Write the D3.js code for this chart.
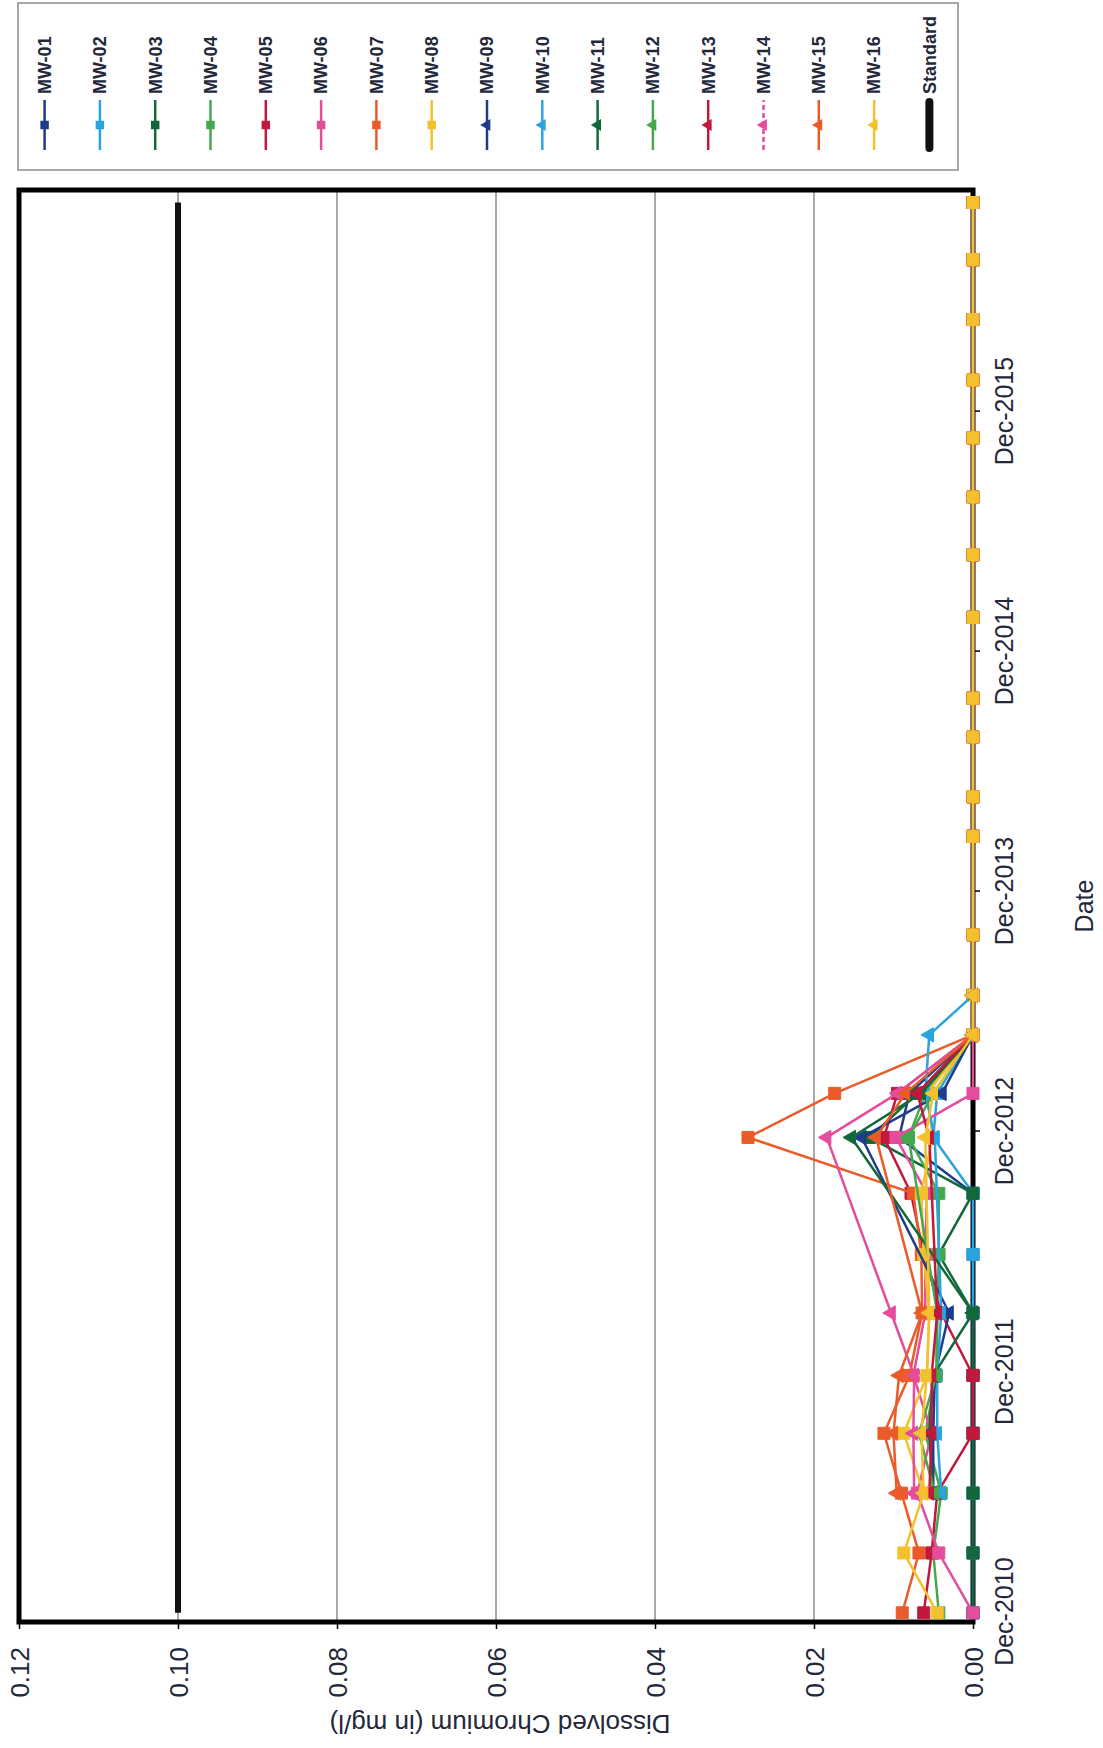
<!DOCTYPE html>
<html><head><meta charset="utf-8">
<script src="https://cdn.jsdelivr.net/npm/d3@7"></script>
<style>body{margin:0;background:#fff}svg{display:block}</style>
</head><body>
<svg id="c" width="1103" height="1748"></svg>
<script>
// ---- data ----
const sampleDates = ["2010-11-30","2011-03-01","2011-05-31","2011-08-30","2011-11-26","2012-02-29","2012-05-28","2012-08-29","2012-11-22","2013-01-28","2013-04-27","2013-06-26","2013-09-26","2014-02-23","2014-04-24","2014-07-24","2014-09-21","2015-01-22","2015-04-27","2015-07-24","2015-10-22","2016-01-18","2016-04-19","2016-07-19","2016-10-14"];
const seriesNames = ["MW-01","MW-02","MW-03","MW-04","MW-05","MW-06","MW-07","MW-08","MW-09","MW-10","MW-11","MW-12","MW-13","MW-14","MW-15","MW-16"];
const seriesColors = ["#1f3c8a","#2aa4de","#13683a","#45a84d","#c3173d","#e54c9c","#ea5b29","#f4c12e","#1f3c8a","#2aa4de","#13683a","#45a84d","#c3173d","#e54c9c","#ea5b29","#f4c12e"];
const seriesMarkers = ["square","square","square","square","square","square","square","square","triangle","triangle","triangle","triangle","triangle","triangle","triangle","triangle"];
const Z = [0,0,0,0,0,0,0,0,0,0,0,0,0];
const N = [null,null,null,null,null,null,null,null,null,null,null,null,null];
const mw01 = [0,0,0,0,0,0,0,0,0.0093,0.0080,0,0].concat(Z);
const mw02 = [0,0,0,0,0,0,0,0,0.0050,0.0045,0,0].concat(Z);
const mw03 = [0,0,0,0,0,0,0.0043,0,0.0130,0.0070,0,0].concat(Z);
const mw04 = [0.0043,0.0050,0.0040,0.0060,0.0046,0.0045,0.0043,0.0043,0.0081,0.0060,0,0].concat(Z);
const mw05 = [0.0062,0.0052,0.0045,0,0,0.0040,0.0062,0.0078,0.0112,0.0095,0,0].concat(Z);
const mw06 = [0,0.0043,0.0070,0.0052,0.0075,0.0060,0.0060,0.0058,0.0097,0,0,0].concat(Z);
const mw07 = [0.0089,0.0068,0.0090,0.0112,0.0080,0.0064,0.0065,0.0075,0.0283,0.0174,0,0].concat(Z);
const mw08 = [0.0045,0.0087,0.0062,0.0087,0.0058,0.0055,0.0062,0.0065,0.0051,0.0058,0,0].concat(Z);
const mw09 = [null,null,0.0050,0.0050,0.0048,0.0030,null,null,0.0140,0.0039,0,0].concat(N);
const mw10 = [null,null,0.0040,0.0045,0.0045,0.0040,null,null,0.0048,0.0060,0.0055,0].concat(N);
const mw11 = [null,null,0.0050,0.0055,0.0050,0,null,null,0.0153,0.0065,0,0].concat(N);
const mw12 = [null,null,0.0048,0.0068,0.0046,0.0045,null,null,0.0081,0.0050,0,0].concat(N);
const mw13 = [null,null,0.0055,0.0052,0.0052,0.0045,null,null,0.0055,0.0070,0,0].concat(N);
const mw14 = [null,null,0.0074,0.0075,0.0074,0.0103,null,null,0.0184,0.0095,0,0].concat(N);
const mw15 = [null,null,0.0096,0.0100,0.0093,0.0064,null,null,0.0122,0.0085,0,0].concat(N);
const mw16 = [null,null,0.0062,0.0065,0.0058,0.0055,null,null,0.0060,0.0050,0,0].concat(N);
const seriesValues = [mw01,mw02,mw03,mw04,mw05,mw06,mw07,mw08,mw09,mw10,mw11,mw12,mw13,mw14,mw15,mw16];
const standardName = "Standard";
const standardDates = ["2010-11-30","2016-10-14"];
const standardValues = [0.10,0.10];
const valueTicks = [0,0.02,0.04,0.06,0.08,0.10,0.12];
const dateTickLabels = ["Dec-2010","Dec-2011","Dec-2012","Dec-2013","Dec-2014","Dec-2015"];
const xTitle = "Date";
const yTitle = "Dissolved Chromium (in mg/l)";

// ---- drawing (upright chart drawn in a rotated group) ----
const parseD = d3.timeParse("%Y-%m-%d");
const parseTick = d3.timeParse("%b-%Y");
const svg = d3.select("#c");
const g = svg.append("g").attr("transform","translate(0,1748) rotate(-90)");
const FONT = "'Liberation Sans', Arial, sans-serif";

const x = d3.scaleTime().domain([new Date(2010,10,16), new Date(2016,10,2)]).range([126,1558]);
const y = d3.scaleLinear().domain([0,0.12]).range([973,19]);

// gridlines
g.append("g").selectAll("line").data(valueTicks.filter(v=>v>0 && v<0.12)).join("line")
  .attr("x1",126).attr("x2",1558).attr("y1",d=>y(d)).attr("y2",d=>y(d))
  .attr("stroke","#8d8d8d").attr("stroke-width",1.5);

// axes
const xAxis = d3.axisBottom(x).tickValues(dateTickLabels.map(parseTick))
  .tickFormat(d3.timeFormat("%b-%Y")).tickSize(7).tickPadding(15);
const gx = g.append("g").attr("transform","translate(0,973)").call(xAxis);
const yAxis = d3.axisLeft(y).tickValues(valueTicks).tickFormat(d3.format(".2f")).tickSize(7).tickPadding(18);
const gy = g.append("g").attr("transform","translate(126,0)").call(yAxis);
[gx,gy].forEach(a=>{
  a.select(".domain").remove();
  a.selectAll(".tick line").attr("stroke","#000").attr("stroke-width",1.5);
  a.selectAll("text").attr("font-family",FONT).attr("fill","#23283a");
});
gx.selectAll("text").attr("font-size",25);
gy.selectAll("text").attr("font-size",26).attr("dy","0.35em");

// plot border
g.append("rect").attr("x",126).attr("y",19).attr("width",1558-126).attr("height",973-19)
  .attr("fill","none").attr("stroke","#000").attr("stroke-width",5);

// titles
g.append("text").attr("x",842).attr("y",1093).attr("text-anchor","middle")
  .attr("font-family",FONT).attr("font-size",25).attr("fill","#23283a").text(xTitle);
g.append("text").attr("transform","translate(33,500) rotate(-90)").attr("text-anchor","middle")
  .attr("font-family",FONT).attr("font-size",26).attr("fill","#23283a").text(yTitle);

// series
const line = d3.line().x(d=>x(d.date)).y(d=>y(d.v));
const sym = {square: d3.symbol(d3.symbolSquare,144), triangle: d3.symbol(d3.symbolTriangle,90)};
seriesNames.forEach((name,i)=>{
  const pts = sampleDates.map((s,j)=>({date:parseD(s), v:seriesValues[i][j]})).filter(p=>p.v!==null);
  const sg = g.append("g");
  sg.append("path").attr("d",line(pts)).attr("fill","none").attr("stroke",seriesColors[i])
    .attr("stroke-width",2.5).attr("stroke-linejoin","round");
  sg.selectAll("path.m").data(pts).join("path").attr("class","m")
    .attr("transform",d=>`translate(${x(d.date)},${y(d.v)})`)
    .attr("d",sym[seriesMarkers[i]]()).attr("fill",seriesColors[i]).attr("stroke",seriesColors[i]).attr("stroke-width",1);
});
// standard
const stdPts = standardDates.map((s,j)=>({date:parseD(s), v:standardValues[j]}));
g.append("path").attr("d",line(stdPts)).attr("fill","none").attr("stroke","#111").attr("stroke-width",6);

// legend
const lg = g.append("g");
lg.append("rect").attr("x",1578).attr("y",18).attr("width",167).attr("height",940)
  .attr("fill","#fff").attr("stroke","#8a8a8a").attr("stroke-width",1.5);
const legendItems = seriesNames.map((n,i)=>({name:n,color:seriesColors[i],marker:seriesMarkers[i]}))
  .concat([{name:standardName,color:"#111",marker:null}]);
const lsym = {square: d3.symbol(d3.symbolSquare,72), triangle: d3.symbol(d3.symbolTriangle,60)};
legendItems.forEach((it,i)=>{
  const cy = 44.6 + i*55.3;
  if(it.marker){
    lg.append("line").attr("x1",1598).attr("x2",1648).attr("y1",cy).attr("y2",cy)
      .attr("stroke",it.color).attr("stroke-width",2.5).attr("stroke-dasharray", it.name==="MW-14" ? "5,3" : null);
    lg.append("path").attr("transform",`translate(1623,${cy})`).attr("d",lsym[it.marker]()).attr("fill",it.color);
  } else {
    lg.append("line").attr("x1",1600).attr("x2",1646).attr("y1",cy).attr("y2",cy)
      .attr("stroke",it.color).attr("stroke-width",8).attr("stroke-linecap","round");
  }
  lg.append("text").attr("x",1654).attr("y",cy).attr("dy","0.35em").attr("font-family",FONT)
    .attr("font-size",18).attr("font-weight","bold").attr("fill","#23283a").text(it.name);
});
</script>
</body></html>
